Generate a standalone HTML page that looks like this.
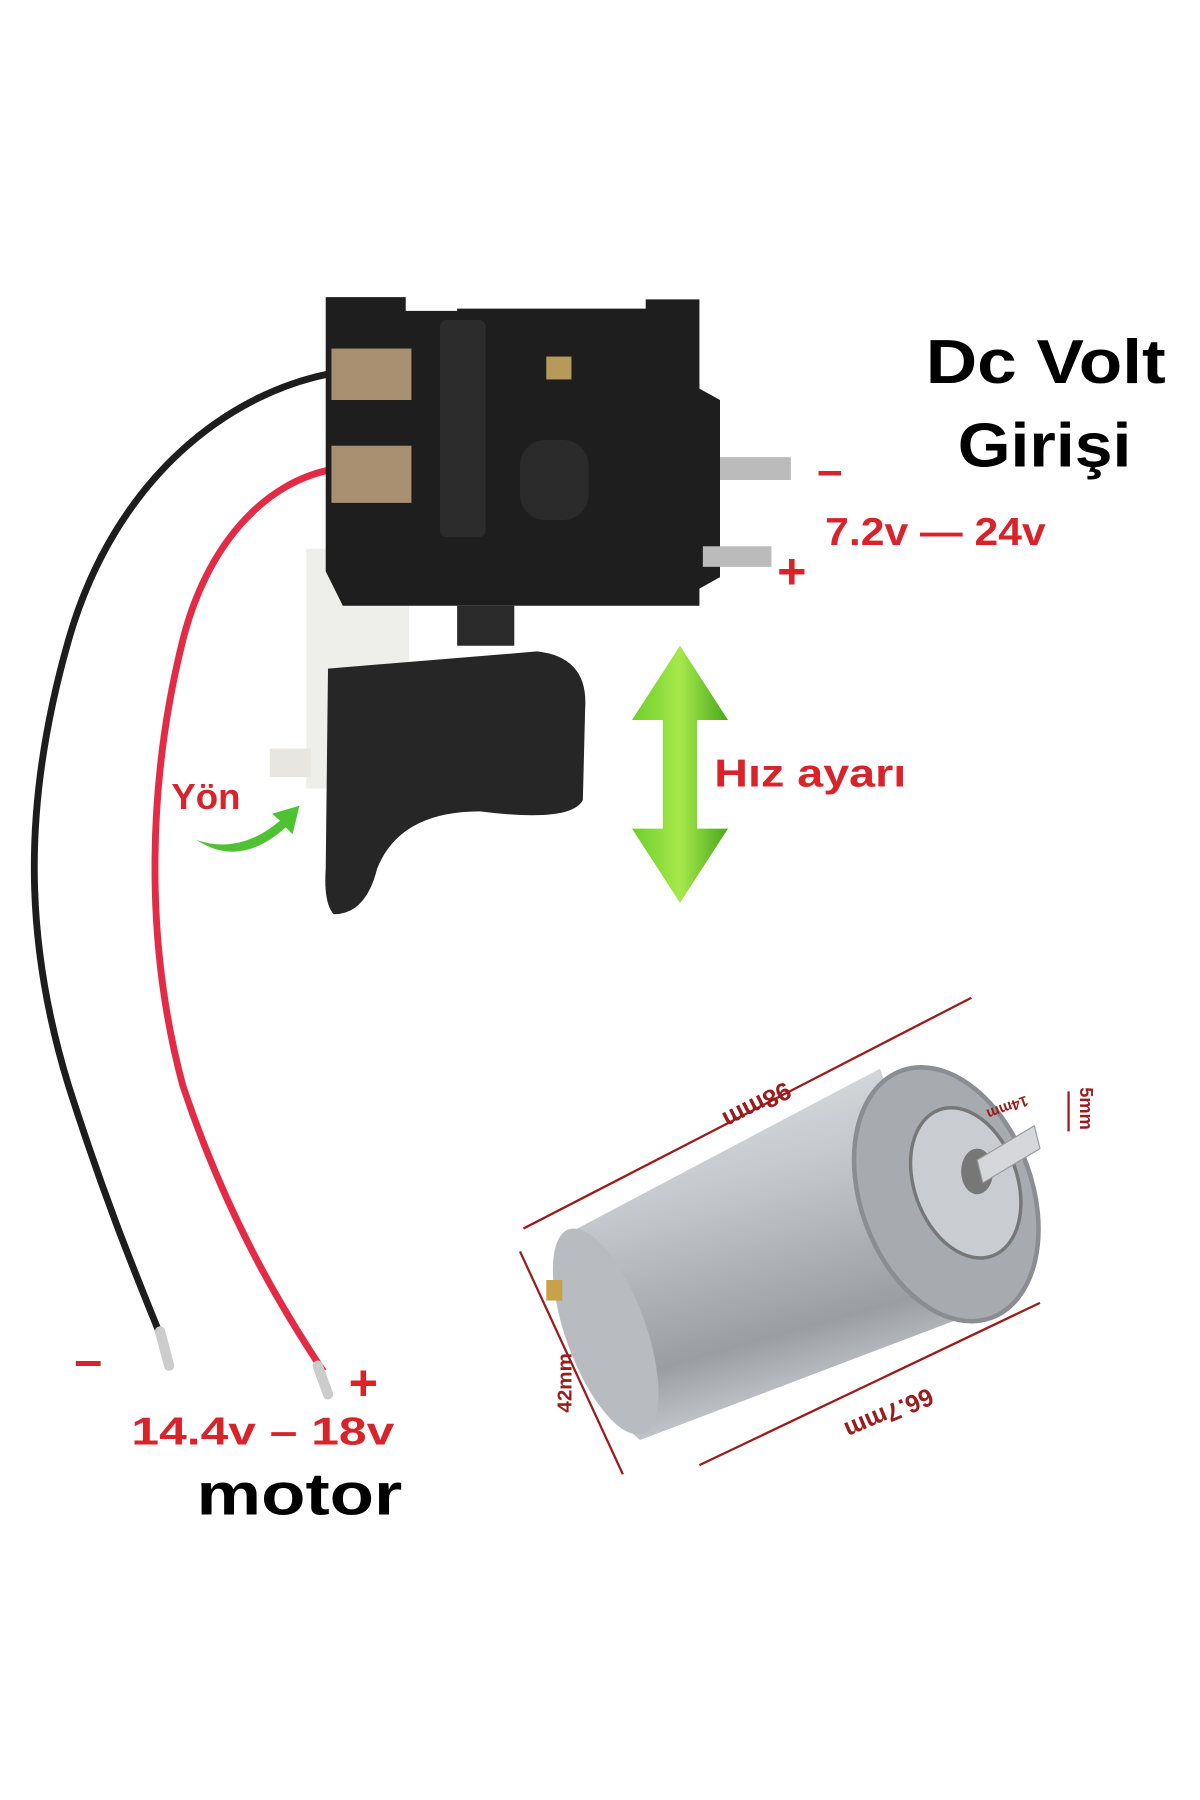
<!DOCTYPE html>
<html><head><meta charset="utf-8"><style>
html,body{margin:0;padding:0;background:#fff;}
svg{display:block;}
text{font-family:"Liberation Sans",sans-serif;font-weight:bold;}
</style></head><body>
<svg width="1200" height="1800" viewBox="0 0 1050 1575" xmlns="http://www.w3.org/2000/svg">
<defs>
<linearGradient id="cyl" x1="0" y1="0" x2="0.3" y2="1">
<stop offset="0" stop-color="#e4e6e8"/><stop offset="0.4" stop-color="#c4c7cb"/><stop offset="0.8" stop-color="#9a9ea3"/><stop offset="1" stop-color="#c9ccd0"/></linearGradient>
<linearGradient id="grn" x1="0" y1="0" x2="1" y2="0">
<stop offset="0" stop-color="#6ccf2a"/><stop offset="0.5" stop-color="#a6e84a"/><stop offset="1" stop-color="#4aa81c"/></linearGradient>
</defs>
<path d="M300 325 C200 340 100 420 60 560 C20 700 20 820 60 950 C95 1060 125 1130 145 1180" fill="none" stroke="#1d1d1d" stroke-width="6"/>
<path d="M295 410 C230 420 180 480 160 560 C130 680 125 820 160 950 C200 1070 250 1150 283 1200" fill="none" stroke="#e32b45" stroke-width="6"/>
<path d="M140 1165 L148 1195" stroke="#ccc" stroke-width="9" stroke-linecap="round"/>
<path d="M278 1195 L287 1220" stroke="#ccc" stroke-width="9" stroke-linecap="round"/>
<rect x="268" y="480" width="90" height="210" fill="#eeeeea"/>
<path d="M285 260 L355 260 L355 272 L400 272 L400 270 L565 270 L565 262 L612 262 L612 340 L630 350 L630 505 L612 515 L612 530 L300 530 L285 500 Z" fill="#1e1e1e"/>
<rect x="385" y="280" width="40" height="190" rx="6" fill="#2c2c2c"/>
<rect x="455" y="385" width="60" height="70" rx="22" fill="#2a2a2a"/>
<rect x="478" y="312" width="22" height="20" fill="#b59a5a"/>
<rect x="290" y="305" width="70" height="45" fill="#a89070"/>
<rect x="290" y="390" width="70" height="50" fill="#a89070"/>
<rect x="630" y="400" width="62" height="20" fill="#bbb"/>
<rect x="615" y="478" width="60" height="18" fill="#bbb"/>
<path d="M400 530 L450 530 L450 565 L400 565 Z" fill="#2a2a2a"/>
<path d="M287 585 L470 570 Q515 575 512 620 L510 700 Q500 720 420 710 Q350 710 330 760 Q320 800 292 800 Q283 790 285 760 Z" fill="#262626"/>
<rect x="236" y="655" width="36" height="25" fill="#e8e6e0"/>
<path d="M595 565 L637 630 L610 630 L610 725 L637 725 L595 790 L553 725 L580 725 L580 630 L553 630 Z" fill="url(#grn)"/>
<path d="M172 735 Q210 748 245 718 L238 712 L262 705 L256 730 L250 724 Q210 760 172 735 Z" fill="#4ec232"/>
<text x="810" y="335" font-size="54" textLength="210" lengthAdjust="spacingAndGlyphs" fill="#000">Dc Volt</text>
<text x="838" y="408" font-size="54" textLength="152" lengthAdjust="spacingAndGlyphs" fill="#000">Girişi</text>
<text x="715" y="425" font-size="40" fill="#d9232b">–</text>
<text x="722" y="477" font-size="34" textLength="193" lengthAdjust="spacingAndGlyphs" fill="#d9232b">7.2v — 24v</text>
<text x="680" y="515" font-size="44" fill="#d9232b">+</text>
<text x="625" y="688" font-size="34" textLength="168" lengthAdjust="spacingAndGlyphs" fill="#d9232b">Hız ayarı</text>
<text x="150" y="708" font-size="32" fill="#d9232b">Yön</text>
<text x="65" y="1205" font-size="44" fill="#d9232b">–</text>
<text x="305" y="1225" font-size="44" fill="#d9232b">+</text>
<text x="115" y="1264" font-size="34" textLength="230" lengthAdjust="spacingAndGlyphs" fill="#d9232b">14.4v  – 18v</text>
<text x="172" y="1325" font-size="52" textLength="180" lengthAdjust="spacingAndGlyphs" fill="#000">motor</text>
<g>
<path d="M505 1075 L770 935 L850 1150 L560 1260 Q490 1200 505 1075 Z" fill="url(#cyl)"/>
<ellipse cx="530" cy="1165" rx="35" ry="95" transform="rotate(-20 530 1165)" fill="#b8bbbf"/>
<ellipse cx="828" cy="1045" rx="75" ry="115" transform="rotate(-20 828 1045)" fill="#a7abb0" stroke="#8a8e93" stroke-width="4"/>
<ellipse cx="845" cy="1035" rx="45" ry="68" transform="rotate(-20 845 1035)" fill="#c9ccd0" stroke="#777" stroke-width="3"/>
<ellipse cx="855" cy="1025" rx="14" ry="20" fill="#777"/>
<path d="M855 1015 L905 985 L910 1005 L860 1035 Z" fill="#d5d7da" stroke="#999"/>
<rect x="478" y="1120" width="14" height="18" fill="#c8a24a"/>
</g>
<g stroke="#9b1c1c" stroke-width="2" fill="none">
<line x1="458" y1="1075" x2="850" y2="873"/>
<line x1="455" y1="1095" x2="545" y2="1290"/>
<line x1="612" y1="1282" x2="910" y2="1140"/>
<line x1="935" y1="955" x2="935" y2="990"/>
</g>
<g fill="#9b1c1c" font-size="22">
<text transform="translate(650 965) rotate(-207)" text-anchor="middle" x="-10" y="0">98mm</text>
<text transform="translate(775 1230) rotate(-203)" text-anchor="middle">66.7mm</text>
<text transform="translate(500 1210) rotate(-90)" text-anchor="middle" font-size="18">42mm</text>
<text transform="translate(945 970) rotate(90)" text-anchor="middle" font-size="16">5mm</text>
<text transform="translate(880 965) rotate(-200)" text-anchor="middle" font-size="13">14mm</text>
</g>
</svg>
</body></html>
